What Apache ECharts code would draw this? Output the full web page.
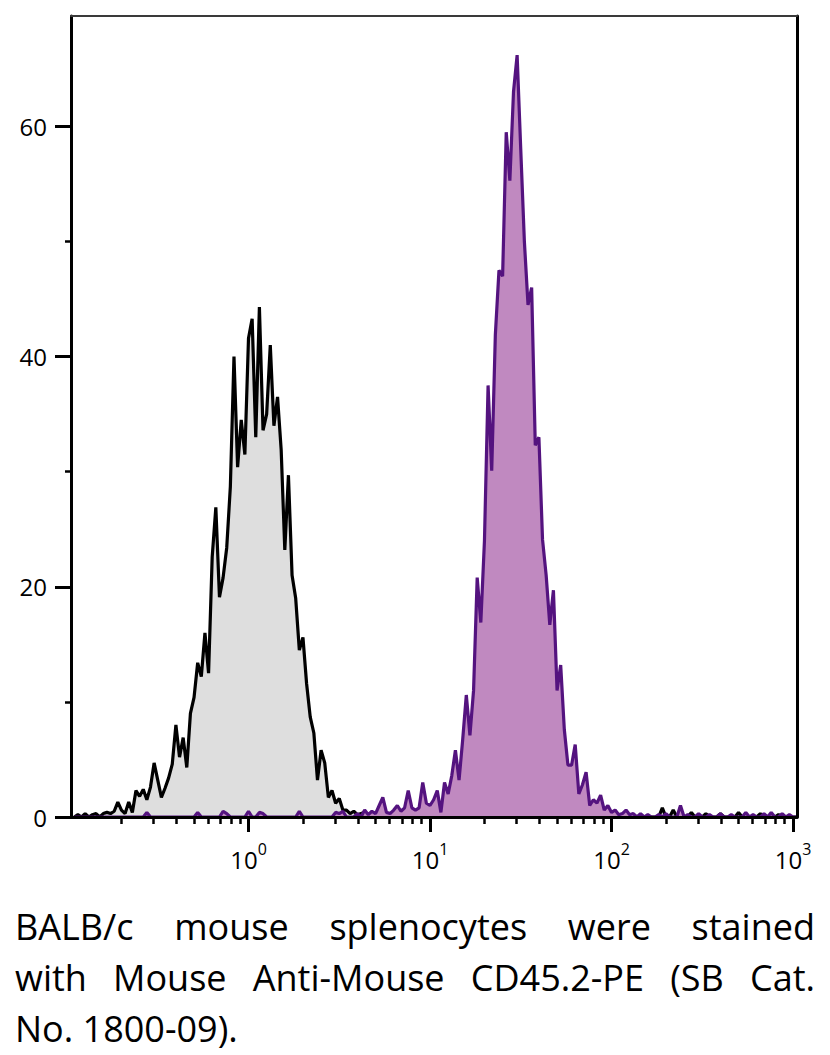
<!DOCTYPE html>
<html>
<head>
<meta charset="utf-8">
<script src="https://cdn.jsdelivr.net/npm/echarts@6/dist/echarts.min.js"></script>
<style>
  html, body { margin: 0; padding: 0; background: #fff; }
  #wrap { position: relative; width: 830px; height: 1055px; overflow: hidden; }
  #chart { position: absolute; left: 0; top: 0; width: 830px; height: 1055px; }
  #caption {
    position: absolute; left: 15px; top: 906px; width: 800px;
    font-family: "Open Sans", "Noto Sans", sans-serif; font-size: 36px;
    color: #000; margin: 0; white-space: nowrap;
  }
  #caption div { line-height: 42px; height: 42px; margin: 0 0 9px 0; }
  #caption div:last-child { margin-bottom: 0; }
  #caption .j { text-align: justify; text-align-last: justify; }
  #caption .l { text-align: left; }
</style>
</head>
<body>
<div id="wrap">
  <div id="chart"></div>
  <div id="caption">
    <div class="j">BALB/c mouse splenocytes were stained</div>
    <div class="j">with Mouse Anti-Mouse CD45.2-PE (SB Cat.</div>
    <div class="l">No. 1800-09).</div>
  </div>
</div>
<script>
// Instrument channel grid (log10 of intensity): first channel and channel width
const binLogStart = -0.96;
const binLogStep = 0.02;

// Unstained / isotype control histogram (grey), counts per channel
const controlCounts = [
  0, 0.2, 0, 0.3, 0, 0.2, 0.3, 0, 0.3, 0.4,
  0.3, 0.5, 1.3, 0.6, 0.3, 1.3, 0.4, 2.3, 1.8, 2.4,
  1.5, 2.6, 4.7, 3.2, 1.7, 2.5, 3.4, 4.6, 8.0, 5.2,
  6.9, 4.3, 9.0, 10.4, 13.4, 12.2, 16, 12.5, 22.6, 26.9,
  19.1, 20.8, 23.4, 28.7, 40, 30.4, 34.5, 31.5, 41.6, 43.3,
  33, 44.3, 33.6, 35, 41, 34, 36.5, 31.9, 23.2, 29.7,
  21, 19, 14.5, 15.6, 11.6, 8.7, 7.3, 3.2, 5.8, 4.7,
  1.7, 2.3, 1.2, 1.6, 0.6, 0.6, 0.3, 0.5, 0.2, 0.3,
  0.4, 0.2, 0.3, 0, 0.2, 0, 0, 0.2, 0, 0,
  0, 0, 0.2, 0, 0, 0, 0, 0, 0, 0,
  0, 0, 0, 0, 0, 0, 0, 0, 0, 0,
  0, 0, 0, 0, 0, 0, 0, 0, 0, 0,
  0, 0, 0, 0, 0, 0, 0, 0, 0, 0,
  0, 0, 0, 0, 0, 0, 0, 0, 0, 0,
  0, 0, 0, 0, 0, 0, 0, 0, 0, 0,
  0, 0, 0, 0, 0, 0, 0, 0, 0, 0,
  0, 0, 0.8, 0, 0, 0.6, 0, 0, 0, 0,
  0.4, 0, 0, 0, 0.3, 0, 0, 0, 0.3, 0,
  0, 0, 0, 0.4, 0, 0, 0, 0, 0, 0.3,
  0, 0, 0, 0, 0.2, 0, 0, 0, 0, 0
];

// CD45.2-PE stained histogram (purple), counts per channel
const stainedCounts = [
  0, 0, 0, 0, 0, 0, 0, 0, 0, 0,
  0, 0, 0, 0, 0, 0, 0, 0, 0, 0,
  0.4, 0, 0, 0, 0, 0, 0, 0, 0, 0,
  0, 0, 0, 0, 0.4, 0, 0, 0, 0, 0,
  0, 0.5, 0.3, 0, 0, 0, 0, 0, 0.5, 0,
  0, 0.4, 0.3, 0, 0, 0, 0, 0, 0, 0,
  0, 0, 0.5, 0, 0, 0, 0, 0, 0, 0,
  0, 0, 0.4, 0.3, 0.5, 0, 0, 0, 0.3, 0,
  0.6, 0.2, 0.5, 0.3, 1.0, 1.7, 0.4, 0.3, 0.6, 1.0,
  0.5, 0.8, 2.3, 0.8, 0.6, 0.8, 3.0, 1.2, 1.0, 1.5,
  2.3, 0.4, 3.0, 2.0, 3.6, 5.8, 3.2, 6.7, 10.6, 7.1,
  11, 20.8, 16.9, 24, 37.5, 30.1, 41.9, 47.5, 47, 59.5,
  55.3, 63, 66.2, 58, 50, 44.5, 46, 32.3, 33, 24.1,
  21, 16.7, 19.7, 11, 13.2, 7.6, 4.5, 4.5, 6.3, 2.0,
  2.8, 3.9, 1.0, 1.5, 1.2, 1.9, 0.6, 1.0, 0.4, 0.6,
  0.2, 0.3, 0.6, 0.2, 0.3, 0, 0.3, 0, 0.2, 0,
  0, 0.2, 0, 0.3, 0, 0, 0, 1.0, 0, 0.2,
  0, 0, 0.3, 0, 0, 0.2, 0, 0, 0.3, 0,
  0, 0.2, 0, 0, 0, 0.4, 0, 0.2, 0, 0,
  0.3, 0, 0.4, 0, 0, 0.3, 0, 0.2, 0, 0
];

// Axis ranges and ticks
const xMin = 0.1052;
const xMax = 1052;
const xMajorTicks = [1, 10, 100, 1000];
const xMinorTicks = [0.2, 0.3, 0.4, 0.5, 0.6, 0.7, 0.8, 0.9,
                     2, 3, 4, 5, 6, 7, 8, 9,
                     20, 30, 40, 50, 60, 70, 80, 90,
                     200, 300, 400, 500, 600, 700, 800, 900];
const yMin = 0;
const yMax = 69.6;
const yMajorTicks = [0, 20, 40, 60];
const yMinorTicks = [10, 30, 50];

function toPairs(counts) {
  return counts.map((c, i) => [Math.pow(10, binLogStart + i * binLogStep), c]);
}

const FONT = '"Open Sans", "Noto Sans", sans-serif';
const chart = echarts.init(document.getElementById('chart'), null, { renderer: 'svg' });

const option = {
  animation: false,
  backgroundColor: '#fff',
  grid: { left: 71, right: 33, top: 16, bottom: 238, containLabel: false },
  xAxis: [
    {
      type: 'log', min: xMin, max: xMax, position: 'bottom', z: 10,
      axisLine: { show: true, onZero: false, lineStyle: { color: '#000', width: 3 } },
      axisTick: { show: true, customValues: xMajorTicks, length: 15, lineStyle: { color: '#000', width: 3 } },
      minorTick: { show: false },
      splitLine: { show: false },
      axisLabel: {
        show: true, customValues: xMajorTicks, margin: 24,
        formatter: v => '{b|10}{s|' + Math.round(Math.log10(v)) + '}',
        rich: {
          b: { fontFamily: FONT, fontSize: 24, color: '#000', lineHeight: 30, verticalAlign: 'bottom' },
          s: { fontFamily: FONT, fontSize: 16, color: '#000', lineHeight: 16, verticalAlign: 'top' }
        }
      }
    },
    {
      type: 'log', min: xMin, max: xMax, position: 'bottom', z: 10,
      axisLine: { show: false },
      axisTick: { show: true, customValues: xMinorTicks, length: 7, lineStyle: { color: '#000', width: 2.5 } },
      axisLabel: { show: false },
      splitLine: { show: false }
    },
    {
      type: 'log', min: xMin, max: xMax, position: 'top', z: 10,
      axisLine: { show: true, onZero: false, lineStyle: { color: '#3a3a3a', width: 2 } },
      axisTick: { show: false }, axisLabel: { show: false }, splitLine: { show: false }
    }
  ],
  yAxis: [
    {
      type: 'value', min: yMin, max: yMax, position: 'left', z: 10,
      axisLine: { show: true, onZero: false, lineStyle: { color: '#000', width: 3 } },
      axisTick: { show: true, customValues: yMajorTicks, length: 16, lineStyle: { color: '#000', width: 3 } },
      axisLabel: { show: true, customValues: yMajorTicks, margin: 24, fontFamily: FONT, fontSize: 24, color: '#000' },
      splitLine: { show: false }
    },
    {
      type: 'value', min: yMin, max: yMax, position: 'left', z: 10,
      axisLine: { show: false },
      axisTick: { show: true, customValues: yMinorTicks, length: 6, lineStyle: { color: '#000', width: 2.5 } },
      axisLabel: { show: false },
      splitLine: { show: false }
    },
    {
      type: 'value', min: yMin, max: yMax, position: 'right', z: 10,
      axisLine: { show: true, onZero: false, lineStyle: { color: '#000', width: 3 } },
      axisTick: { show: false }, axisLabel: { show: false }, splitLine: { show: false }
    }
  ],
  series: [
    {
      name: 'Control', type: 'line', xAxisIndex: 0, yAxisIndex: 0,
      data: toPairs(controlCounts), showSymbol: false, symbol: 'none',
      lineStyle: { color: '#000', width: 3.2 },
      areaStyle: { color: '#dedede', opacity: 1 },
      z: 2
    },
    {
      name: 'CD45.2-PE', type: 'line', xAxisIndex: 0, yAxisIndex: 0,
      data: toPairs(stainedCounts), showSymbol: false, symbol: 'none',
      lineStyle: { color: '#54137f', width: 3.2 },
      areaStyle: { color: '#c089c0', opacity: 1 },
      z: 3
    }
  ]
};
chart.setOption(option);
</script>
</body>
</html>
